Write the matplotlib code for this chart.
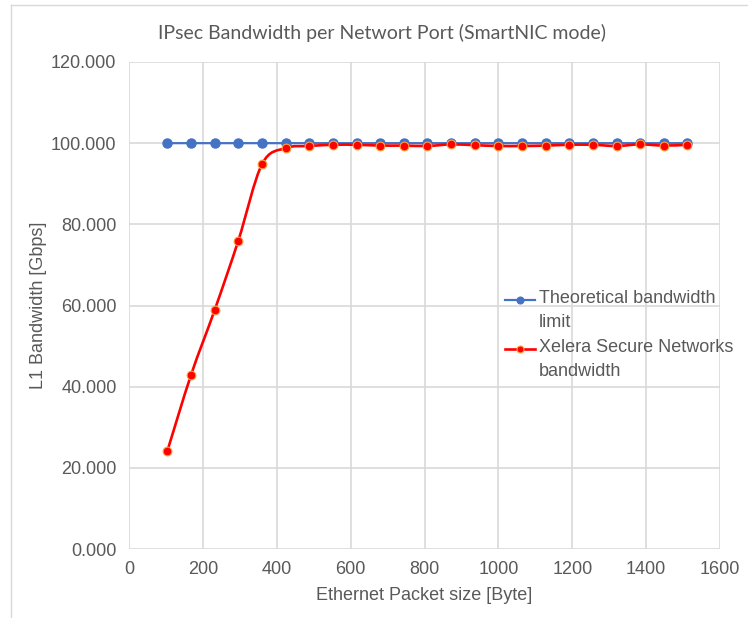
import matplotlib
matplotlib.use('Agg')
import matplotlib.pyplot as plt
import numpy as np
from matplotlib.path import Path
from matplotlib.patches import PathPatch
from matplotlib.lines import Line2D

# packet sizes [Byte]
packet_size = [104, 168, 232, 296, 360, 424, 488, 552, 616, 680, 744, 808,
               872, 936, 1000, 1064, 1128, 1192, 1256, 1320, 1384, 1448, 1512]
# theoretical limit [Gbps]
theoretical = [100.0] * len(packet_size)
# measured bandwidth [Gbps]
xelera = [24.2, 42.9, 58.9, 76.0, 94.8, 98.8, 99.3, 99.6, 99.6, 99.4, 99.4, 99.3,
          99.7, 99.5, 99.3, 99.3, 99.4, 99.6, 99.6, 99.3, 99.7, 99.4, 99.6]

series_names = ['Theoretical bandwidth\nlimit', 'Xelera Secure Networks\nbandwidth']
title = 'IPsec Bandwidth per Networt Port (SmartNIC mode)'
x_ticks = [0, 200, 400, 600, 800, 1000, 1200, 1400, 1600]
y_ticks = [0, 20, 40, 60, 80, 100, 120]

GRAY_TEXT = '#595959'
GRID = '#D9D9D9'
BLUE = '#4472C4'
RED = '#FF0000'
W, H = 748, 618


def smooth_path(xs, ys):
    # excel-like smoothed line: catmull-rom segments as cubic beziers
    pts = np.column_stack([xs, ys]).astype(float)
    n = len(pts)
    verts = [pts[0]]
    codes = [Path.MOVETO]
    for i in range(n - 1):
        p0 = pts[i - 1] if i > 0 else pts[i]
        p1 = pts[i]
        p2 = pts[i + 1]
        p3 = pts[i + 2] if i + 2 < n else pts[i + 1]
        c1 = p1 + (p2 - p0) / 6.0
        c2 = p2 - (p3 - p1) / 6.0
        verts += [c1, c2, p2]
        codes += [Path.CURVE4] * 3
    return Path(verts, codes)


def fx(px):
    return px / W


def fy(py):
    return 1 - py / H


fig = plt.figure(figsize=(W / 100, H / 100), dpi=100)
ax = fig.add_axes([fx(129), fy(549), (720 - 129) / W, (549 - 62) / H])

# outer chart border
fig.add_artist(Line2D([fx(11), 1], [fy(5), fy(5)], color='#D9D9D9', lw=1))
fig.add_artist(Line2D([fx(11), fx(11)], [0, fy(5)], color='#D9D9D9', lw=1))

ax.add_patch(PathPatch(smooth_path(packet_size, theoretical), fill=False,
                       edgecolor=BLUE, lw=1.6, zorder=3))
ax.plot(packet_size, theoretical, linestyle='none', marker='o', markersize=6.5,
        color=BLUE, markeredgecolor=BLUE, zorder=4)

ax.add_patch(PathPatch(smooth_path(packet_size, xelera), fill=False,
                       edgecolor=RED, lw=1.9, zorder=5))
ax.plot(packet_size, xelera, linestyle='none', marker='o', markersize=6.3,
        color=RED, markeredgecolor='#FFA040', markeredgewidth=0.8, zorder=6)

ax.set_xlim(0, 1600)
ax.set_ylim(0, 120)
ax.set_xticks(x_ticks)
ax.set_yticks(y_ticks)
ax.set_yticklabels(['%.3f' % v for v in y_ticks])
ax.grid(True, color=GRID, lw=1.2)
ax.set_axisbelow(True)
for s in ax.spines.values():
    s.set_visible(False)
ax.tick_params(length=0, labelsize=13, labelcolor=GRAY_TEXT, pad=9)
for lab in ax.get_xticklabels() + ax.get_yticklabels():
    lab.set_family('Liberation Sans')

ax.set_xlabel('Ethernet Packet size [Byte]', fontsize=13, color=GRAY_TEXT,
              family='Liberation Sans', labelpad=6)
ax.set_ylabel('L1 Bandwidth [Gbps]', fontsize=13, color=GRAY_TEXT,
              family='Liberation Sans', labelpad=3)

fig.text(fx(382), fy(33), title, ha='center', va='center',
         fontsize=14, color=GRAY_TEXT, family='Lato')

# legend drawn by hand so the key sits on the first text line (like Excel)
legend_rows = [(300, BLUE, BLUE, 1.6), (349, RED, '#FFA040', 1.9)]
for (row_y, col, edge, lw), name in zip(legend_rows, series_names):
    fig.add_artist(Line2D([fx(505), fx(535)], [fy(row_y), fy(row_y)], color=col, lw=lw))
    fig.add_artist(Line2D([fx(520)], [fy(row_y)], color=col, marker='o', markersize=5,
                          markeredgecolor=edge, markeredgewidth=0.8))
    fig.text(fx(539), fy(row_y - 10), name, ha='left', va='top', fontsize=13,
             color=GRAY_TEXT, family='Liberation Sans', linespacing=1.55)

fig.savefig('out.png', dpi=100)
